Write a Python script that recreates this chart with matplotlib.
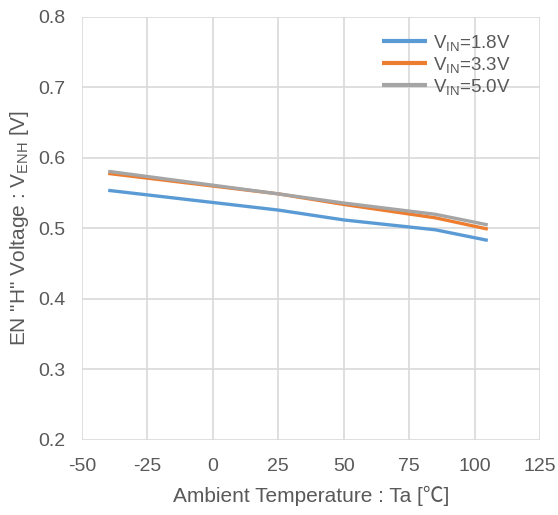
import matplotlib
matplotlib.use("Agg")
import matplotlib.pyplot as plt

temps = [-40, 25, 50, 85, 105]
v18 = [0.554, 0.526, 0.512, 0.498, 0.483]
v33 = [0.578, 0.549, 0.534, 0.515, 0.499]
v50 = [0.581, 0.549, 0.536, 0.520, 0.505]
labels = ["V$_{\\mathrm{IN}}$=1.8V", "V$_{\\mathrm{IN}}$=3.3V", "V$_{\\mathrm{IN}}$=5.0V"]
colors = ["#5B9BD5", "#ED7D31", "#A5A5A5"]
xticks = [-50, -25, 0, 25, 50, 75, 100, 125]
yticks = [0.2, 0.3, 0.4, 0.5, 0.6, 0.7, 0.8]

plt.rcParams['font.family'] = ['Liberation Sans', 'Noto Sans CJK JP', 'DejaVu Sans']
plt.rcParams['mathtext.fontset'] = 'custom'
plt.rcParams['mathtext.rm'] = 'Liberation Sans'
plt.rcParams['mathtext.it'] = 'Liberation Sans:italic'
plt.rcParams['axes.unicode_minus'] = False
txt = "#595959"

fig = plt.figure(figsize=(5.58, 5.15), dpi=100)
ax = fig.add_axes([0.147, 0.146, 0.821, 0.821])
for y, lab, c in zip([v18, v33, v50], labels, colors):
    ax.plot(temps, y, color=c, lw=2.4, label=lab, solid_capstyle='butt')
ax.set_xlim(-50, 125)
ax.set_ylim(0.2, 0.8)
ax.set_xticks(xticks)
ax.set_xticklabels([str(v) for v in xticks])
ax.set_yticks(yticks)
ax.set_yticklabels([f"{v:.1f}" for v in yticks])
ax.grid(True, color="#D9D9D9", lw=1.2)
ax.set_axisbelow(True)
for s in ax.spines.values():
    s.set_visible(False)
ax.tick_params(axis='x', length=0, labelsize=14, colors=txt, pad=13)
ax.tick_params(axis='y', length=0, labelsize=14, colors=txt, pad=12)
ax.set_xlabel("Ambient Temperature : Ta [\u2103]", fontsize=15, color=txt, labelpad=8)
ax.set_ylabel('EN "H" Voltage : V$_{\\mathrm{ENH}}$ [V]', fontsize=15, color=txt, labelpad=5)
leg = ax.legend(loc="upper right", bbox_to_anchor=(0.936, 0.962), frameon=False,
                fontsize=13.5, handlelength=2.35, labelspacing=0.1, handletextpad=0.35,
                borderpad=0.0, borderaxespad=0.0)
for t in leg.get_texts():
    t.set_color(txt)
for l in leg.get_lines():
    l.set_linewidth(3)
fig.savefig("out.png", dpi=100)
